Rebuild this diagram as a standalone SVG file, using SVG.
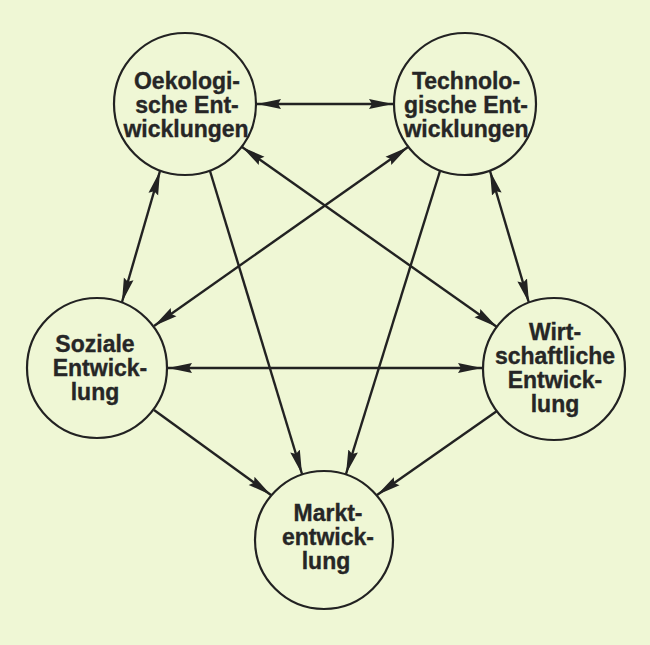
<svg xmlns="http://www.w3.org/2000/svg" width="650" height="645" viewBox="0 0 650 645">
<style>
.bg{fill:#eff7d5}
.node circle{fill:#eff7d5;stroke:#222;stroke-width:2.2}
.node text{font-family:"Liberation Sans",Arial,sans-serif;font-weight:bold;font-size:23px;fill:#262626;stroke:#262626;stroke-width:0.35;text-anchor:middle}
.conn line{stroke:#222;stroke-width:2.4}
</style>
<defs>
<marker id="ah" markerUnits="userSpaceOnUse" markerWidth="26" markerHeight="12" refX="24" refY="6" orient="auto-start-reverse">
<path d="M0,1 L24,6 L0,11 L3,6 z" fill="#222"/>
</marker>
</defs>
<rect class="bg" x="0" y="0" width="650" height="645"/>
<g id="connectors" class="conn">
<line x1="257" y1="104" x2="393" y2="104" marker-start="url(#ah)" marker-end="url(#ah)"/>
<line x1="160" y1="171" x2="122" y2="302" marker-start="url(#ah)" marker-end="url(#ah)"/>
<line x1="490" y1="171" x2="529" y2="303" marker-start="url(#ah)" marker-end="url(#ah)"/>
<line x1="242" y1="147" x2="497" y2="327" marker-start="url(#ah)" marker-end="url(#ah)"/>
<line x1="408" y1="147" x2="154" y2="326" marker-start="url(#ah)" marker-end="url(#ah)"/>
<line x1="168" y1="368" x2="482" y2="368" marker-start="url(#ah)" marker-end="url(#ah)"/>
<line x1="154" y1="410" x2="271" y2="495" marker-end="url(#ah)"/>
<line x1="497" y1="411" x2="377" y2="495" marker-end="url(#ah)"/>
<line x1="210" y1="171" x2="302" y2="474" marker-end="url(#ah)"/>
<line x1="440" y1="171" x2="346" y2="474" marker-end="url(#ah)"/>
</g>
<g id="oekologische" class="node">
<circle cx="185" cy="104" r="71"/>
<text x="187" y="89">Oekologi-</text>
<text x="187" y="113">sche Ent-</text>
<text x="186" y="137">wicklungen</text>
</g>
<g id="technologische" class="node">
<circle cx="465" cy="104" r="71"/>
<text x="466" y="89">Technolo-</text>
<text x="466" y="113">gische Ent-</text>
<text x="466" y="137">wicklungen</text>
</g>
<g id="soziale" class="node">
<circle cx="97" cy="368" r="70"/>
<text x="95" y="352">Soziale</text>
<text x="100" y="376">Entwick-</text>
<text x="95" y="400">lung</text>
</g>
<g id="wirtschaftliche" class="node">
<circle cx="554" cy="369" r="71"/>
<text x="555" y="340">Wirt-</text>
<text x="555" y="364">schaftliche</text>
<text x="555" y="388">Entwick-</text>
<text x="555" y="412">lung</text>
</g>
<g id="markt" class="node">
<circle cx="324" cy="540" r="69"/>
<text x="328" y="521">Markt-</text>
<text x="328" y="545">entwick-</text>
<text x="326" y="569">lung</text>
</g>
</svg>
